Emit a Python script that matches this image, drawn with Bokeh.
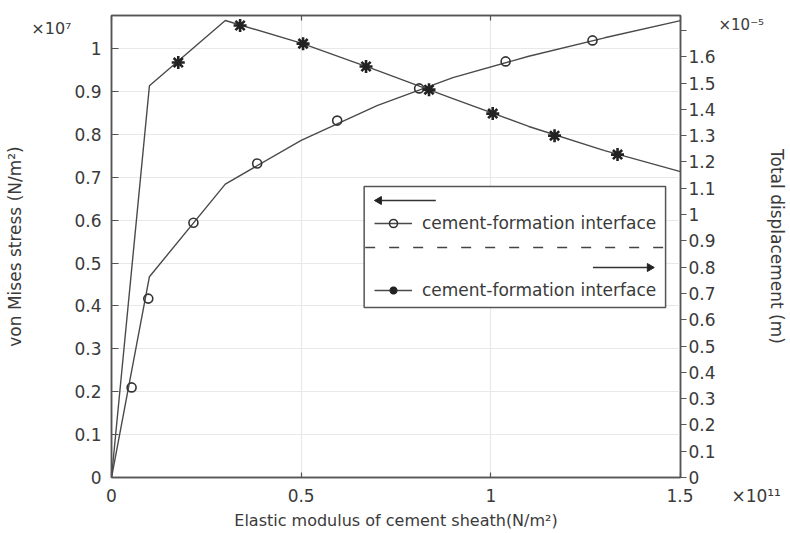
import math
import numpy as np
from bokeh.plotting import figure
from bokeh.models import (Range1d, LinearAxis, FixedTicker, CustomJSTickFormatter,
                          Legend, LegendItem)
from bokeh.embed import file_html
from bokeh.resources import INLINE

# ---- data ----
modulus = [0, 0.1, 0.3, 0.5, 0.7, 0.9, 1.1, 1.3, 1.5]            # x10^11 N/m^2
stress = [0, 0.468, 0.684, 0.786, 0.867, 0.932, 0.982, 1.025, 1.065]  # x10^7 N/m^2
displacement = [0, 1.49, 1.738, 1.652, 1.548, 1.441, 1.335, 1.243, 1.163]  # x10^-5 m

stress_marker_x = [0.053, 0.097, 0.216, 0.384, 0.595, 0.811, 1.039, 1.268]
stress_marker_y = [0.21, 0.417, 0.594, 0.732, 0.832, 0.907, 0.970, 1.019]
disp_marker_x = [0.176, 0.339, 0.505, 0.671, 0.837, 1.005, 1.168, 1.334]
disp_marker_y = [1.578, 1.719, 1.650, 1.563, 1.475, 1.384, 1.300, 1.228]

x_ticks = [0, 0.5, 1, 1.5]
left_ticks = [round(0.1 * i, 1) for i in range(11)]
right_ticks = [round(0.1 * i, 1) for i in range(18)]

legend_label = "cement-formation interface"
x_title = "Elastic modulus of cement sheath(N/m²)"
y_title = "von Mises stress (N/m²)"
y2_title = "Total displacement (m)"
x_mult, y_mult, y2_mult = "×10¹¹", "×10⁷", "×10⁻⁵"

FONT = "DejaVu Sans"
TXT = "#3a3a3a"
AX = "#555555"
LINE = "#4a4a4a"

X_MAX, Y_MAX, Y2_MAX = 1.5, 1.077, 1.757

# frame geometry (pixels in the page)
FL, FR, FT, FB = 111, 683, 15, 477
W, H = 790, 533

p = figure(width=W, height=H, output_backend="svg", toolbar_location=None,
           x_range=Range1d(0, X_MAX), y_range=Range1d(0, Y_MAX),
           min_border_left=FL, min_border_right=W - FR,
           min_border_top=FT, min_border_bottom=H - FB)
p.extra_y_ranges = {"disp": Range1d(0, Y2_MAX)}
p.background_fill_color = "white"
p.border_fill_color = "white"
p.outline_line_color = AX
p.outline_line_width = 1.5

# pixel -> data helpers (for legend decorations and multiplier placement)
def dx(px):
    return (px - FL) / (FR - FL) * X_MAX

def dy(py):
    return (FB - py) / (FB - FT) * Y_MAX

def dy2(py):
    return (FB - py) / (FB - FT) * Y2_MAX

fmt = CustomJSTickFormatter(code="return (Math.round(tick*10)/10).toString();")
fmt_r = CustomJSTickFormatter(code="return tick > 1.65 ? '' : (Math.round(tick*10)/10).toString();")
NB = "\u00a0"
fmt_x = CustomJSTickFormatter(
    args=dict(last=NB * 16 + "1.5" + NB * 7 + x_mult),
    code="return tick > 1.49 ? last : (Math.round(tick*10)/10).toString();")

def style_axis(ax, label_size="16px"):
    ax.axis_line_color = AX
    ax.axis_line_width = 1.5
    ax.major_tick_line_color = AX
    ax.major_tick_line_width = 1.2
    ax.minor_tick_line_color = None
    ax.major_label_text_font = FONT
    ax.major_label_text_font_size = "17px"
    ax.major_label_text_color = TXT
    ax.axis_label_text_font = FONT
    ax.axis_label_text_font_size = label_size
    ax.axis_label_text_font_style = "normal"
    ax.axis_label_text_color = TXT

def bare_axis(ax):
    ax.axis_line_color = None
    ax.major_tick_line_color = None
    ax.major_tick_in = 0
    ax.major_tick_out = 0
    ax.major_label_standoff = 0

# bottom axis
xa = p.xaxis[0]
style_axis(xa, "16px")
xa.ticker = FixedTicker(ticks=x_ticks)
xa.formatter = fmt_x
xa.axis_label = x_title
xa.major_tick_in = 5
xa.major_tick_out = 0
xa.major_label_standoff = 8
xa.axis_label_standoff = 2

# left: ticks, then multiplier, then title
ya = p.yaxis[0]
style_axis(ya, "17px")
ya.ticker = FixedTicker(ticks=left_ticks)
ya.formatter = fmt
ya.major_tick_in = 7
ya.major_tick_out = 0
ya.major_label_standoff = 10

ym = LinearAxis()
style_axis(ym)
bare_axis(ym)
ym.major_label_text_font_size = "16px"
ym.ticker = FixedTicker(ticks=[dy(28)])
ym.formatter = CustomJSTickFormatter(args=dict(t=y_mult), code="return t;")
p.add_layout(ym, "left")

yt = LinearAxis()
style_axis(yt, "17px")
bare_axis(yt)
yt.ticker = FixedTicker(ticks=[])
yt.axis_label = y_title
yt.axis_label_standoff = 4
p.add_layout(yt, "left")

# right: ticks, then multiplier with the title beyond it
ra = LinearAxis(y_range_name="disp")
style_axis(ra, "17px")
ra.ticker = FixedTicker(ticks=right_ticks)
ra.formatter = fmt_r
ra.major_tick_in = 0
ra.major_tick_out = 6
ra.major_label_standoff = 2
p.add_layout(ra, "right")

rm = LinearAxis(y_range_name="disp")
style_axis(rm, "17px")
bare_axis(rm)
rm.major_label_text_font_size = "15px"
rm.ticker = FixedTicker(ticks=[dy2(24)])
rm.formatter = CustomJSTickFormatter(args=dict(t=y2_mult), code="return t;")
rm.axis_label = y2_title
rm.axis_label_standoff = 0
p.add_layout(rm, "right")

# top: inward ticks only
ta = LinearAxis()
style_axis(ta)
ta.ticker = FixedTicker(ticks=x_ticks)
ta.major_label_text_font_size = "0px"
ta.major_label_standoff = 0
ta.major_tick_in = 5
ta.major_tick_out = 0
p.add_layout(ta, "above")

p.xgrid.ticker = FixedTicker(ticks=x_ticks)
p.ygrid.ticker = FixedTicker(ticks=left_ticks)
p.xgrid.grid_line_color = "#e8e8e8"
p.ygrid.grid_line_color = "#e8e8e8"
p.xgrid.grid_line_width = 1.2
p.ygrid.grid_line_width = 1.2

# ---- series ----
l1 = p.line(modulus, stress, line_color=LINE, line_width=1.4)
m1 = p.scatter(stress_marker_x, stress_marker_y, marker="circle", size=9,
               fill_color=None, line_color="#333333", line_width=1.6)
l2 = p.line(modulus, displacement, line_color=LINE, line_width=1.4, y_range_name="disp")
m2 = p.scatter(disp_marker_x, disp_marker_y, marker="asterisk", size=13,
               line_color="#222222", line_width=2.6, y_range_name="disp")

# ---- legend box and its decorations (drawn as glyphs under a transparent legend) ----
p.quad(left=[dx(365)], right=[dx(668)], top=[dy(186)], bottom=[dy(307)],
       fill_color="white", line_color="#555555", line_width=1.5)
p.segment(x0=[dx(437), dx(595)], y0=[dy(200), dy(267)],
          x1=[dx(380), dx(652)], y1=[dy(200), dy(267)],
          line_color="#333333", line_width=1.4)
p.scatter(x=[dx(380), dx(652)], y=[dy(200), dy(267)], marker="triangle",
          angle=[math.pi / 2, -math.pi / 2], size=8,
          fill_color="#222222", line_color="#222222")
p.segment(x0=[dx(366)], y0=[dy(247)], x1=[dx(667)], y1=[dy(247)],
          line_color="#444444", line_width=1.4, line_dash="10 14")

legend = Legend(items=[
    LegendItem(label=legend_label, renderers=[l1, m1]),
    LegendItem(label=legend_label, renderers=[l2, m2]),
])
legend.location = (374 - FL, FB - 300)
legend.label_text_font = FONT
legend.label_text_font_size = "17px"
legend.label_text_color = TXT
legend.glyph_width = 38
legend.glyph_height = 20
legend.label_height = 20
legend.spacing = 47
legend.padding = 0
legend.margin = 0
legend.label_standoff = 10
legend.border_line_color = None
legend.background_fill_alpha = 0
p.add_layout(legend, "center")

open("out.html", "w").write(file_html(p, INLINE))
